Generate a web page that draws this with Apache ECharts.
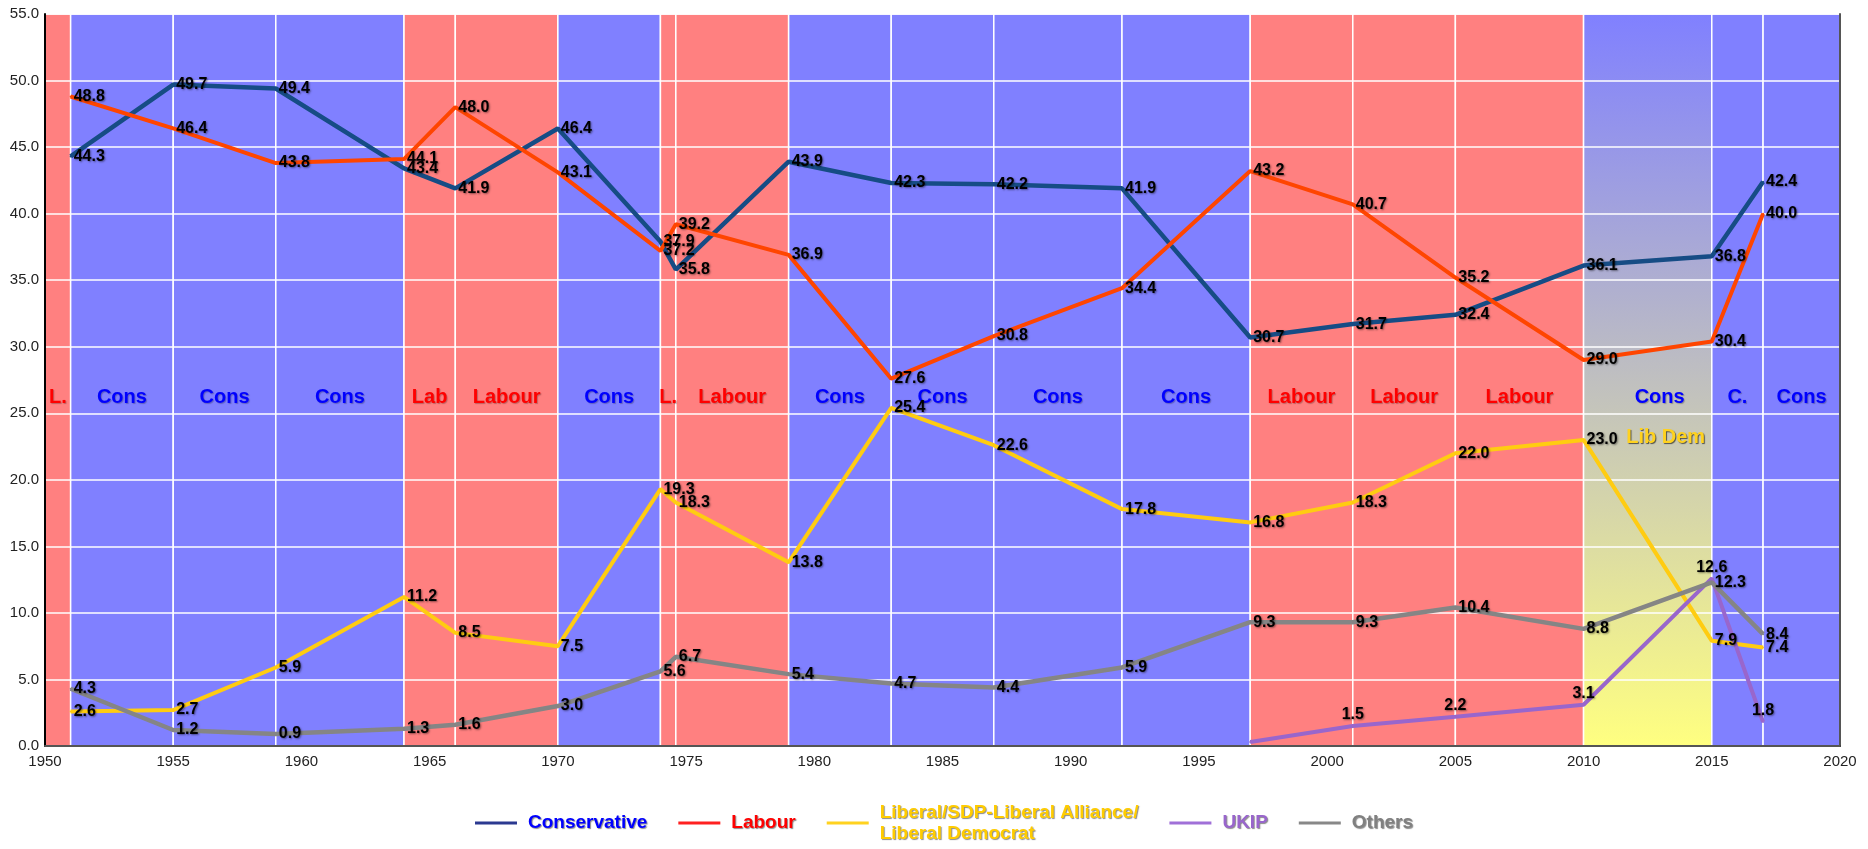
<!DOCTYPE html>
<html>
<head>
<meta charset="utf-8">
<title>UK general elections - share of the vote</title>
<script src="https://cdn.jsdelivr.net/npm/echarts@6/dist/echarts.min.js"></script>
<style>
html, body { margin: 0; padding: 0; background: #fff; }
#chart { width: 1868px; height: 849px; }
</style>
</head>
<body>
<div id="chart"></div>
<script>
// election years (1974 had two: Feb and Oct)
var years = [1951, 1955, 1959, 1964, 1966, 1970, 1974, 1974.6, 1979, 1983, 1987, 1992, 1997, 2001, 2005, 2010, 2015, 2017];

var conservative = [44.3, 49.7, 49.4, 43.4, 41.9, 46.4, 37.9, 35.8, 43.9, 42.3, 42.2, 41.9, 30.7, 31.7, 32.4, 36.1, 36.8, 42.4];
var labour       = [48.8, 46.4, 43.8, 44.1, 48.0, 43.1, 37.2, 39.2, 36.9, 27.6, 30.8, 34.4, 43.2, 40.7, 35.2, 29.0, 30.4, 40.0];
var liberal      = [2.6, 2.7, 5.9, 11.2, 8.5, 7.5, 19.3, 18.3, 13.8, 25.4, 22.6, 17.8, 16.8, 18.3, 22.0, 23.0, 7.9, 7.4];
var ukip         = [null, null, null, null, null, null, null, null, null, null, null, null, 0.3, 1.5, 2.2, 3.1, 12.6, 1.8];
var others       = [4.3, 1.2, 0.9, 1.3, 1.6, 3.0, 5.6, 6.7, 5.4, 4.7, 4.4, 5.9, 9.3, 9.3, 10.4, 8.8, 12.3, 8.4];
var ukipNoLabel  = [1997];

// governments between elections
var govEdges = [1950, 1951, 1955, 1959, 1964, 1966, 1970, 1974, 1974.6, 1979, 1983, 1987, 1992, 1997, 2001, 2005, 2010, 2015, 2017, 2020];
var govParty = ['lab', 'con', 'con', 'con', 'lab', 'lab', 'con', 'lab', 'lab', 'con', 'con', 'con', 'con', 'lab', 'lab', 'lab', 'coal', 'con', 'con'];
var govLabel = ['L.', 'Cons', 'Cons', 'Cons', 'Lab', 'Labour', 'Cons', 'L.', 'Labour', 'Cons', 'Cons', 'Cons', 'Cons', 'Labour', 'Labour', 'Labour', 'Cons', 'C.', 'Cons'];

var FONT = 'Liberation Sans, Arial, sans-serif';

$chart();

function $chart() {
    var myChart = echarts.init(document.getElementById('chart'));

    function pairs(vals, hide) {
        var out = [];
        for (var i = 0; i < years.length; i++) {
            if (vals[i] == null) continue;
            var p = { value: [years[i], vals[i]] };
            if (hide && hide.indexOf(years[i]) >= 0) p.label = { show: false };
            out.push(p);
        }
        return out;
    }

    var bandColor = {
        lab: '#FF8080',
        con: '#8080FF',
        coal: new echarts.graphic.LinearGradient(0, 0, 0, 1, [
            { offset: 0, color: '#8080FF' },
            { offset: 1, color: '#FFFF80' }
        ])
    };

    var areas = [];
    for (var i = 0; i < govParty.length; i++) {
        var party = govParty[i];
        areas.push([{
            name: govLabel[i],
            xAxis: govEdges[i],
            itemStyle: { color: bandColor[party] },
            label: {
                color: party == 'lab' ? '#FF0000' : '#0000FF',
                offset: [party == 'coal' ? 12 : 0, 17]
            }
        }, { xAxis: govEdges[i + 1] }]);
    }
    // coalition partner
    areas.push([{
        name: 'Lib Dem',
        xAxis: 2010,
        itemStyle: { color: 'rgba(0,0,0,0)', borderWidth: 0 },
        label: {
            color: '#FFD21F',
            offset: [18, 57],
            textShadowColor: 'rgba(0,0,0,0.6)',
            textShadowOffsetX: 1,
            textShadowOffsetY: 1,
            textShadowBlur: 1
        }
    }, { xAxis: 2015 }]);

    var dataLabel = {
        show: true,
        position: 'right',
        distance: 2,
        color: '#000',
        fontFamily: FONT,
        fontWeight: 'bold',
        fontSize: 16,
        textShadowColor: 'rgba(0,0,0,0.45)',
        textShadowBlur: 2,
        textShadowOffsetX: 1,
        textShadowOffsetY: 1,
        formatter: function (p) { return p.value[1].toFixed(1); }
    };

    function lineSeries(name, vals, color, width, labelPos, hide) {
        return {
            name: name,
            type: 'line',
            z: 5,
            data: pairs(vals, hide),
            symbol: 'circle',
            symbolSize: 2,
            itemStyle: { color: color },
            lineStyle: { color: color, width: width },
            label: Object.assign({}, dataLabel, { position: labelPos }),
            emphasis: { disabled: true }
        };
    }

    var libName = 'Liberal/SDP-Liberal Alliance/\nLiberal Democrat';

    option = {
        animation: false,
        backgroundColor: '#fff',
        textStyle: { fontFamily: FONT },
        grid: { left: 45, right: 28, top: 14, bottom: 103 },
        legend: {
            left: 470,
            top: 797,
            icon: 'rect',
            itemWidth: 42,
            itemHeight: 3,
            itemGap: 31,
            textStyle: {
                fontFamily: FONT,
                fontSize: 19,
                fontWeight: 'bold',
                lineHeight: 21,
                padding: [0, 0, 0, 6],
                textShadowColor: 'rgba(0,0,0,0.45)',
                textShadowBlur: 1,
                textShadowOffsetX: 1,
                textShadowOffsetY: 1
            },
            data: [
                { name: 'Conservative', itemStyle: { color: '#2B3990' }, textStyle: { color: '#0000FF' } },
                { name: 'Labour', itemStyle: { color: '#FF2020' }, textStyle: { color: '#FF0000' } },
                { name: libName, itemStyle: { color: '#FFD21F' }, textStyle: { color: '#FFCC00' } },
                { name: 'UKIP', itemStyle: { color: '#A070D8' }, textStyle: { color: '#9966CC' } },
                { name: 'Others', itemStyle: { color: '#888888' }, textStyle: { color: '#808080' } }
            ]
        },
        xAxis: [{
            type: 'value',
            min: 1950,
            max: 2020,
            interval: 5,
            z: 3,
            axisLine: { show: true, onZero: false, lineStyle: { color: '#000', width: 2 } },
            axisTick: { show: false },
            splitLine: { show: false },
            axisLabel: {
                color: '#222', fontSize: 15, margin: 8, fontFamily: FONT,
                formatter: function (v) { return String(v); }
            }
        }, {
            type: 'value',
            position: 'top',
            min: 1950,
            max: 2020,
            z: 3,
            axisLine: { show: true, lineStyle: { color: '#555', width: 2 } },
            axisTick: { show: false },
            splitLine: { show: false },
            axisLabel: { show: false }
        }],
        yAxis: [{
            type: 'value',
            min: 0,
            max: 55,
            interval: 5,
            z: 3,
            axisLine: { show: true, onZero: false, lineStyle: { color: '#000', width: 2 } },
            axisTick: { show: false },
            splitLine: { show: true, lineStyle: { color: '#fff', width: 1.5 } },
            axisLabel: {
                color: '#222', fontSize: 15, margin: 6, fontFamily: FONT,
                formatter: function (v) { return v.toFixed(1); }
            }
        }, {
            type: 'value',
            position: 'right',
            min: 0,
            max: 55,
            z: 3,
            axisLine: { show: true, lineStyle: { color: '#555', width: 2 } },
            axisTick: { show: false },
            splitLine: { show: false },
            axisLabel: { show: false }
        }],
        series: [
            {
                name: 'government',
                type: 'line',
                z: 1,
                silent: true,
                symbol: 'none',
                data: [[1950, 0], [2020, 0]],
                lineStyle: { opacity: 0 },
                markArea: {
                    silent: true,
                    z: 1,
                    itemStyle: { borderColor: '#fff', borderWidth: 1.5 },
                    label: {
                        show: true,
                        position: 'inside',
                        fontFamily: FONT,
                        fontSize: 20,
                        fontWeight: 'bold',
                        textShadowColor: 'rgba(0,0,0,0.25)',
                        textShadowBlur: 1,
                        textShadowOffsetX: 1,
                        textShadowOffsetY: 1
                    },
                    data: areas
                }
            },
            lineSeries('Conservative', conservative, '#164C85', 4.5, 'right'),
            lineSeries('Labour', labour, '#FF4500', 4, 'right'),
            lineSeries(libName, liberal, '#FFCC11', 4, 'right'),
            lineSeries('UKIP', ukip, '#9966CC', 4, 'top', ukipNoLabel),
            lineSeries('Others', others, '#858585', 4.5, 'right')
        ]
    };

    myChart.setOption(option);
    window.addEventListener("resize", function () {
        myChart.resize();
    });
}
</script>
</body>
</html>
